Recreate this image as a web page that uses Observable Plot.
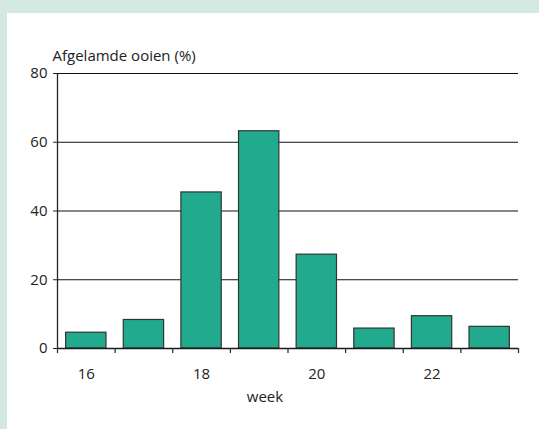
<!DOCTYPE html>
<html>
<head>
<meta charset="utf-8">
<script src="https://cdn.jsdelivr.net/npm/d3@7"></script>
<script src="https://cdn.jsdelivr.net/npm/@observablehq/plot@0.6"></script>
<style>
  html, body { margin: 0; padding: 0; background: #d3e8e1; width: 539px; height: 429px; overflow: hidden; }
  #panel { position: absolute; left: 7px; top: 13px; width: 532px; height: 416px; background: #fff; }
  #panel svg { display: block; font-family: "Open Sans", "Lato", sans-serif; }
</style>
</head>
<body>
<div id="panel"></div>
<script>
const weeks = [16, 17, 18, 19, 20, 21, 22, 23];
const percentages = [4.6, 8.3, 45.4, 63.2, 27.3, 5.8, 9.4, 6.3];
const yTicks = [0, 20, 40, 60, 80];
const xLabelTicks = [16, 18, 20, 22];
const yTitle = "Afgelamde ooien (%)";
const xTitle = "week";

const data = weeks.map((w, i) => ({week: w, pct: percentages[i]}));
const boundaries = [...weeks.map(w => w - 0.5), weeks[weeks.length - 1] + 0.5];

const chart = Plot.plot({
  width: 532,
  height: 416,
  marginLeft: 50,
  marginRight: 21,
  marginTop: 60,
  marginBottom: 81,
  style: {fontSize: "15px", color: "#222", background: "#fff"},
  x: {domain: [boundaries[0], boundaries[boundaries.length - 1]], axis: null},
  y: {domain: [0, 80], axis: null},
  marks: [
    Plot.ruleY(yTicks.filter(d => d > 0), {stroke: "#111", strokeWidth: 1}),
    Plot.rectY(data, {x1: d => d.week - 0.35, x2: d => d.week + 0.35, y: "pct", fill: "#22aa8f", stroke: "#333", strokeWidth: 1.2}),
    Plot.ruleY([0], {stroke: "#1a1a1a", strokeWidth: 1.6}),
    Plot.ruleX([boundaries[0]], {stroke: "#222", strokeWidth: 1.3}),
    Plot.axisY(yTicks, {tickSize: 4, tickPadding: 6, fontSize: 15, stroke: "#222", label: null}),
    Plot.axisX(boundaries, {tickSize: 5, tickFormat: () => "", stroke: "#333", strokeWidth: 1.3, label: null}),
    Plot.axisX(xLabelTicks, {tickSize: 0, tickPadding: 20, fontSize: 15, label: null}),
    Plot.text([yTitle], {frameAnchor: "top-left", textAnchor: "start", dx: -5, dy: -23, fontSize: 15, fill: "#222"}),
    Plot.text([xTitle], {frameAnchor: "bottom", dx: -23, dy: 53, fontSize: 15, fill: "#222"})
  ]
});
document.getElementById("panel").appendChild(chart);
</script>
</body>
</html>
